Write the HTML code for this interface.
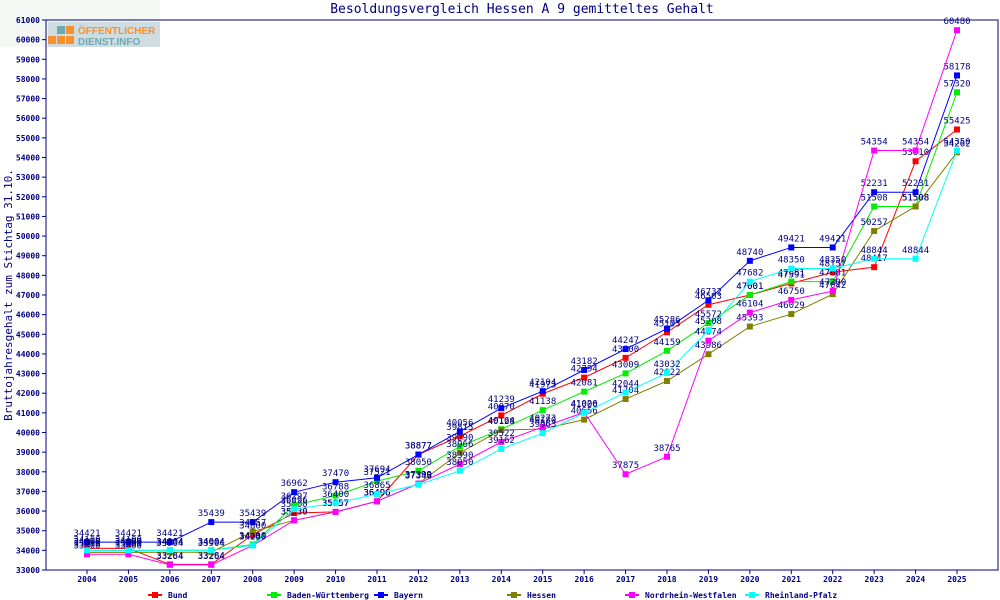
<!DOCTYPE html>
<html><head><meta charset="utf-8"><style>
body{margin:0;background:#fff}
svg{display:block;font-family:"DejaVu Sans Mono","Liberation Mono",monospace}
</style></head><body>
<svg id="s" width="1000" height="600" xmlns="http://www.w3.org/2000/svg">
<rect width="1000" height="600" fill="#fff"/>
<rect x="0" y="0" width="160" height="47" fill="#f4f8f4"/>
<text x="522" y="13" font-size="13" fill="#000080" text-anchor="middle">Besoldungsvergleich Hessen A 9 gemitteltes Gehalt</text>
<rect x="46" y="20" width="952" height="550" fill="none" stroke="#000080" stroke-width="1"/>
<g transform="translate(12,295) rotate(-90)"><text font-size="11" fill="#000080" text-anchor="middle">Bruttojahresgehalt zum Stichtag 31.10.</text></g>
<rect x="48" y="22" width="112" height="25" fill="#cfdde0"/>
<rect x="48" y="36" width="8" height="8" fill="#f7902f"/><rect x="57" y="36" width="8" height="8" fill="#f7902f"/><rect x="66" y="36" width="8" height="8" fill="#f7902f"/>
<rect x="57" y="26" width="8" height="8" fill="#6aaab5"/><rect x="66" y="26" width="8" height="8" fill="#f7902f"/>
<text x="78" y="34" font-size="10" font-weight="bold" fill="#f7902f" font-family="Liberation Sans,sans-serif">ÖFFENTLICHER</text>
<text x="78" y="45" font-size="10" font-weight="bold" fill="#6aaab5" font-family="Liberation Sans,sans-serif">DIENST.INFO</text>
<g id="g"></g>
</svg>
<script>
const g=document.getElementById('g');let h='';
const Y=v=>570-(v-33000)/28000*550, X=i=>87+i*(870/21);
for(let v=33000;v<=61000;v+=1000){const y=Y(v);h+=`<line x1="42" x2="46" y1="${y}" y2="${y}" stroke="#000080"/><text x="40" y="${y+3}" font-size="8" font-weight="bold" fill="#000080" text-anchor="end">${v}</text>`;}
for(let i=0;i<22;i++){const x=X(i);h+=`<line x1="${x}" x2="${x}" y1="570" y2="574" stroke="#000080"/><text x="${x}" y="582" font-size="8" font-weight="bold" fill="#000080" text-anchor="middle">${2004+i}</text>`;}
const S=[
["Bund","#ff0000",[34100,34100,33284,33284,34800,35900,35957,36496,38877,39815,40870,41973,42794,43800,45103,46503,47001,47591,48157,48417,53810,55425]],
["Baden-Württemberg","#00ee00",[34000,34000,34004,34004,34300,36297,36788,37521,38050,39290,40164,41138,42081,43009,44159,45572,47001,47681,47681,51508,51508,57320]],
["Bayern","#0000ff",[34421,34421,34421,35439,35439,36962,37470,37694,38877,40056,41239,42104,43182,44247,45286,46732,48740,49421,49421,52231,52231,58178]],
["Hessen","#808000",[33900,33900,33904,33904,34957,35530,35957,36496,37399,38966,40128,40180,40656,41704,42622,43986,45393,46029,47042,50257,51508,54262]],
["Nordrhein-Westfalen","#ff00ff",[33800,33800,33264,33264,34249,35530,35957,36496,37399,38390,39522,40273,41026,37875,38765,44674,46104,46750,47200,54354,54354,60480]],
["Rheinland-Pfalz","#00ffff",[34000,34000,34004,34004,34250,36096,36400,36865,37346,38050,39162,39963,41000,42044,43032,45208,47682,48350,48350,48844,48844,54350]]];
const lx=[148,267,374,507,625,745];
S.forEach((s,k)=>{const p=s[2].map((v,i)=>X(i)+','+Y(v)).join(' ');
h+=`<polyline points="${p}" fill="none" stroke="${s[1]}" stroke-width="1"/>`;
s[2].forEach((v,i)=>{const x=X(i),y=Y(v);h+=`<rect x="${x-3}" y="${y-3}" width="6" height="6" fill="${s[1]}"/><text x="${x}" y="${y-6}" font-size="9" fill="#000080" text-anchor="middle">${v}</text>`;});
const x=lx[k];h+=`<line x1="${x}" x2="${x+14}" y1="595" y2="595" stroke="${s[1]}" stroke-width="2"/><rect x="${x+4}" y="592" width="6" height="6" fill="${s[1]}"/><text x="${x+20}" y="598" font-size="8" font-weight="bold" fill="#000080">${s[0]}</text>`;});
g.innerHTML=h;
</script>
</body></html>
